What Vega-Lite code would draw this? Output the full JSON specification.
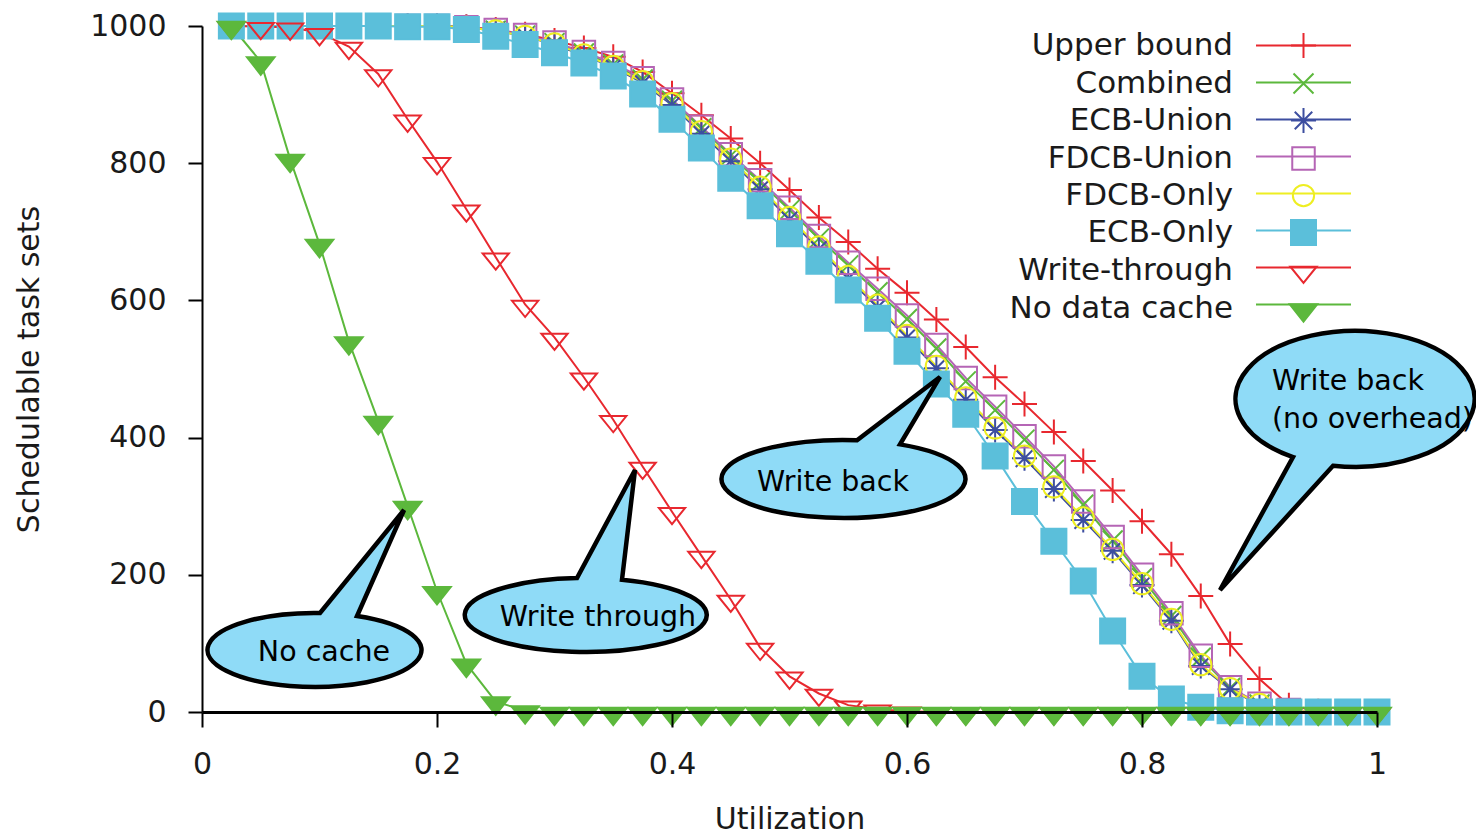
{
  "$schema": "https://vega.github.io/schema/vega-lite/v6.json",
  "width": 1175,
  "height": 686,
  "autosize": {"type": "none"},
  "padding": {"left": 202, "top": 26, "right": 99, "bottom": 122},
  "background": "white",
  "config": {
    "view": {"stroke": null},
    "legend": {
      "labelFont": "DejaVu Sans",
      "labelFontSize": 31,
      "labelColor": "#1a1a1a",
      "labelAlign": "right",
      "labelOffset": -86,
      "labelLimit": 500,
      "symbolSize": 625,
      "symbolStrokeWidth": 2,
      "rowPadding": 5,
      "padding": 0
    }
  },
  "datasets": {
    "curves": [
      {"u": 0.025, "Upper bound": 1000, "Combined": 1000, "ECB-Union": 1000, "FDCB-Union": 1000, "FDCB-Only": 1000, "ECB-Only": 1000, "Write-through": 1000, "No data cache": 1000},
      {"u": 0.05, "Upper bound": 1000, "Combined": 1000, "ECB-Union": 1000, "FDCB-Union": 1000, "FDCB-Only": 1000, "ECB-Only": 1000, "Write-through": 999, "No data cache": 948},
      {"u": 0.075, "Upper bound": 1000, "Combined": 1000, "ECB-Union": 1000, "FDCB-Union": 1000, "FDCB-Only": 1000, "ECB-Only": 1000, "Write-through": 998, "No data cache": 806},
      {"u": 0.1, "Upper bound": 1000, "Combined": 1000, "ECB-Union": 1000, "FDCB-Union": 1000, "FDCB-Only": 1000, "ECB-Only": 1000, "Write-through": 990, "No data cache": 682},
      {"u": 0.125, "Upper bound": 1000, "Combined": 1000, "ECB-Union": 1000, "FDCB-Union": 1000, "FDCB-Only": 1000, "ECB-Only": 1000, "Write-through": 970, "No data cache": 540},
      {"u": 0.15, "Upper bound": 1000, "Combined": 1000, "ECB-Union": 1000, "FDCB-Union": 1000, "FDCB-Only": 1000, "ECB-Only": 1000, "Write-through": 930, "No data cache": 424},
      {"u": 0.175, "Upper bound": 1000, "Combined": 1000, "ECB-Union": 1000, "FDCB-Union": 1000, "FDCB-Only": 1000, "ECB-Only": 999, "Write-through": 864, "No data cache": 300},
      {"u": 0.2, "Upper bound": 1000, "Combined": 1000, "ECB-Union": 1000, "FDCB-Union": 1000, "FDCB-Only": 1000, "ECB-Only": 999, "Write-through": 802, "No data cache": 176},
      {"u": 0.225, "Upper bound": 999, "Combined": 998, "ECB-Union": 998, "FDCB-Union": 998, "FDCB-Only": 998, "ECB-Only": 995, "Write-through": 733, "No data cache": 70},
      {"u": 0.25, "Upper bound": 995, "Combined": 993, "ECB-Union": 993, "FDCB-Union": 994, "FDCB-Only": 993, "ECB-Only": 985, "Write-through": 663, "No data cache": 15},
      {"u": 0.275, "Upper bound": 988, "Combined": 986, "ECB-Union": 985, "FDCB-Union": 987, "FDCB-Only": 985, "ECB-Only": 973, "Write-through": 594, "No data cache": 2},
      {"u": 0.3, "Upper bound": 979, "Combined": 975, "ECB-Union": 973, "FDCB-Union": 976, "FDCB-Only": 974, "ECB-Only": 961, "Write-through": 546, "No data cache": 0},
      {"u": 0.325, "Upper bound": 968, "Combined": 960, "ECB-Union": 957, "FDCB-Union": 962, "FDCB-Only": 958, "ECB-Only": 946, "Write-through": 488, "No data cache": 0},
      {"u": 0.35, "Upper bound": 955, "Combined": 944, "ECB-Union": 940, "FDCB-Union": 946, "FDCB-Only": 941, "ECB-Only": 927, "Write-through": 426, "No data cache": 0},
      {"u": 0.375, "Upper bound": 933, "Combined": 922, "ECB-Union": 917, "FDCB-Union": 924, "FDCB-Only": 919, "ECB-Only": 901, "Write-through": 358, "No data cache": 0},
      {"u": 0.4, "Upper bound": 902, "Combined": 891, "ECB-Union": 885, "FDCB-Union": 893, "FDCB-Only": 887, "ECB-Only": 864, "Write-through": 292, "No data cache": 0},
      {"u": 0.425, "Upper bound": 870, "Combined": 851, "ECB-Union": 843, "FDCB-Union": 853, "FDCB-Only": 846, "ECB-Only": 822, "Write-through": 228, "No data cache": 0},
      {"u": 0.45, "Upper bound": 836, "Combined": 811, "ECB-Union": 803, "FDCB-Union": 813, "FDCB-Only": 806, "ECB-Only": 778, "Write-through": 164, "No data cache": 0},
      {"u": 0.475, "Upper bound": 800, "Combined": 772, "ECB-Union": 762, "FDCB-Union": 775, "FDCB-Only": 765, "ECB-Only": 738, "Write-through": 94, "No data cache": 0},
      {"u": 0.5, "Upper bound": 761, "Combined": 732, "ECB-Union": 718, "FDCB-Union": 735, "FDCB-Only": 721, "ECB-Only": 697, "Write-through": 52, "No data cache": 0},
      {"u": 0.525, "Upper bound": 721, "Combined": 690, "ECB-Union": 675, "FDCB-Union": 694, "FDCB-Only": 678, "ECB-Only": 657, "Write-through": 27, "No data cache": 0},
      {"u": 0.55, "Upper bound": 685, "Combined": 651, "ECB-Union": 632, "FDCB-Union": 655, "FDCB-Only": 635, "ECB-Only": 615, "Write-through": 10, "No data cache": 0},
      {"u": 0.575, "Upper bound": 646, "Combined": 612, "ECB-Union": 590, "FDCB-Union": 617, "FDCB-Only": 593, "ECB-Only": 574, "Write-through": 4, "No data cache": 0},
      {"u": 0.6, "Upper bound": 611, "Combined": 573, "ECB-Union": 546, "FDCB-Union": 578, "FDCB-Only": 549, "ECB-Only": 526, "Write-through": 1, "No data cache": 0},
      {"u": 0.625, "Upper bound": 572, "Combined": 530, "ECB-Union": 501, "FDCB-Union": 535, "FDCB-Only": 504, "ECB-Only": 478, "Write-through": 0, "No data cache": 0},
      {"u": 0.65, "Upper bound": 532, "Combined": 482, "ECB-Union": 455, "FDCB-Union": 487, "FDCB-Only": 458, "ECB-Only": 434, "Write-through": 0, "No data cache": 0},
      {"u": 0.675, "Upper bound": 488, "Combined": 440, "ECB-Union": 411, "FDCB-Union": 445, "FDCB-Only": 414, "ECB-Only": 373, "Write-through": 0, "No data cache": 0},
      {"u": 0.7, "Upper bound": 449, "Combined": 397, "ECB-Union": 370, "FDCB-Union": 402, "FDCB-Only": 373, "ECB-Only": 307, "Write-through": 0, "No data cache": 0},
      {"u": 0.725, "Upper bound": 408, "Combined": 353, "ECB-Union": 325, "FDCB-Union": 358, "FDCB-Only": 328, "ECB-Only": 249, "Write-through": 0, "No data cache": 0},
      {"u": 0.75, "Upper bound": 366, "Combined": 302, "ECB-Union": 280, "FDCB-Union": 307, "FDCB-Only": 283, "ECB-Only": 191, "Write-through": 0, "No data cache": 0},
      {"u": 0.775, "Upper bound": 323, "Combined": 250, "ECB-Union": 235, "FDCB-Union": 255, "FDCB-Only": 237, "ECB-Only": 118, "Write-through": 0, "No data cache": 0},
      {"u": 0.8, "Upper bound": 278, "Combined": 195, "ECB-Union": 185, "FDCB-Union": 200, "FDCB-Only": 187, "ECB-Only": 52, "Write-through": 0, "No data cache": 0},
      {"u": 0.825, "Upper bound": 230, "Combined": 140, "ECB-Union": 133, "FDCB-Union": 144, "FDCB-Only": 135, "ECB-Only": 19, "Write-through": 0, "No data cache": 0},
      {"u": 0.85, "Upper bound": 169, "Combined": 79, "ECB-Union": 67, "FDCB-Union": 82, "FDCB-Only": 69, "ECB-Only": 7, "Write-through": 0, "No data cache": 0},
      {"u": 0.875, "Upper bound": 99, "Combined": 35, "ECB-Union": 33, "FDCB-Union": 36, "FDCB-Only": 34, "ECB-Only": 2, "Write-through": 0, "No data cache": 0},
      {"u": 0.9, "Upper bound": 48, "Combined": 11, "ECB-Union": 10, "FDCB-Union": 12, "FDCB-Only": 11, "ECB-Only": 0, "Write-through": 0, "No data cache": 0},
      {"u": 0.925, "Upper bound": 10, "Combined": 3, "ECB-Union": 2, "FDCB-Union": 3, "FDCB-Only": 2, "ECB-Only": 0, "Write-through": 0, "No data cache": 0},
      {"u": 0.95, "Upper bound": 1, "Combined": 0, "ECB-Union": 0, "FDCB-Union": 0, "FDCB-Only": 0, "ECB-Only": 0, "Write-through": 0, "No data cache": 0},
      {"u": 0.975, "Upper bound": 0, "Combined": 0, "ECB-Union": 0, "FDCB-Union": 0, "FDCB-Only": 0, "ECB-Only": 0, "Write-through": 0, "No data cache": 0},
      {"u": 1.0, "Upper bound": 0, "Combined": 0, "ECB-Union": 0, "FDCB-Union": 0, "FDCB-Only": 0, "ECB-Only": 0, "Write-through": 0, "No data cache": 0}
    ]
  },
  "data": {"name": "curves"},
  "encoding": {
    "x": {
      "field": "u",
      "type": "quantitative",
      "scale": {"domain": [0, 1], "nice": false, "zero": false},
      "axis": {
        "title": "Utilization",
        "values": [0, 0.2, 0.4, 0.6, 0.8, 1],
        "format": "~g",
        "grid": false,
        "tickSize": 15,
        "tickWidth": 2,
        "tickColor": "#000",
        "domainColor": "#000",
        "domainWidth": 3,
        "labelFont": "DejaVu Sans",
        "labelFontSize": 30,
        "labelColor": "#1a1a1a",
        "labelPadding": 22,
        "labelFlush": false,
        "labelOverlap": false,
        "titleFont": "DejaVu Sans",
        "titleFontSize": 30,
        "titleFontWeight": "normal",
        "titleColor": "#1a1a1a",
        "titlePadding": 25,
        "zindex": 1
      }
    },
    "y": {
      "field": "n",
      "type": "quantitative",
      "scale": {"domain": [0, 1000], "nice": false},
      "axis": {
        "title": "Schedulable task sets",
        "values": [0, 200, 400, 600, 800, 1000],
        "format": "d",
        "grid": false,
        "tickSize": 14,
        "tickWidth": 2,
        "tickColor": "#000",
        "domainColor": "#000",
        "domainWidth": 2,
        "labelFont": "DejaVu Sans",
        "labelFontSize": 30,
        "labelColor": "#1a1a1a",
        "labelPadding": 22,
        "labelOverlap": false,
        "titleFont": "DejaVu Sans",
        "titleFontSize": 30,
        "titleFontWeight": "normal",
        "titleColor": "#1a1a1a",
        "titlePadding": 45,
        "zindex": 1
      }
    }
  },
  "layer": [
    {
      "transform": [{"fold": ["Upper bound", "Combined", "ECB-Union", "FDCB-Union", "FDCB-Only", "ECB-Only", "Write-through", "No data cache"], "as": ["series", "n"]}],
      "mark": {"type": "line", "strokeWidth": 2},
      "encoding": {
        "color": {
          "field": "series",
          "type": "nominal",
          "scale": {
            "domain": ["Upper bound", "Combined", "ECB-Union", "FDCB-Union", "FDCB-Only", "ECB-Only", "Write-through", "No data cache", " "],
            "range": ["#e8282f", "#5cb83c", "#3d4ea0", "#b565b5", "#eeee22", "#5bbfda", "#e8282f", "#5cb83c", "transparent"]
          },
          "legend": {
            "title": null,
            "orient": "none",
            "legendX": 1086,
            "legendY": 4,
            "zindex": 1,
            "symbolType": "M-3.8,0L3.8,0",
            "labelExpr": "' '",
            "labelOpacity": 0
          }
        }
      }
    },
    {
      "transform": [{"fold": ["Upper bound", "Combined", "ECB-Union", "FDCB-Union", "FDCB-Only", "ECB-Only", "Write-through", "No data cache"], "as": ["series", "n"]}],
      "mark": {"type": "point", "strokeWidth": 2, "opacity": 1, "size": 625},
      "encoding": {
        "stroke": {
          "field": "series",
          "type": "nominal",
          "scale": {
            "domain": ["Upper bound", "Combined", "ECB-Union", "FDCB-Union", "FDCB-Only", "ECB-Only", "Write-through", "No data cache"],
            "range": ["#e8282f", "#5cb83c", "#3d4ea0", "#b565b5", "#eeee22", "#5bbfda", "#e8282f", "#5cb83c"]
          }
        },
        "fill": {
          "field": "series",
          "type": "nominal",
          "scale": {
            "domain": ["Upper bound", "Combined", "ECB-Union", "FDCB-Union", "FDCB-Only", "ECB-Only", "Write-through", "No data cache"],
            "range": ["transparent", "transparent", "transparent", "transparent", "transparent", "#5bbfda", "transparent", "#5cb83c"]
          },
          "legend": {
            "title": null,
            "orient": "none",
            "legendX": 1086,
            "legendY": 4,
            "zindex": 2
          }
        },
        "shape": {
          "field": "series",
          "type": "nominal",
          "scale": {
            "domain": ["Upper bound", "Combined", "ECB-Union", "FDCB-Union", "FDCB-Only", "ECB-Only", "Write-through", "No data cache"],
            "range": [
              "M-1,0L1,0M0,-1L0,1",
              "M-0.8,-0.8L0.8,0.8M-0.8,0.8L0.8,-0.8",
              "M-1,0L1,0M0,-1L0,1M-0.7,-0.7L0.7,0.7M-0.7,0.7L0.7,-0.7",
              "M-0.9,-0.9L0.9,-0.9L0.9,0.9L-0.9,0.9Z",
              "M-0.85,0A0.85,0.85 0 1,0 0.85,0A0.85,0.85 0 1,0 -0.85,0Z",
              "M-1,-1L1,-1L1,1L-1,1Z",
              "M-1.05,-0.3L1.05,-0.3L0,1Z",
              "M-1.1,-0.35L1.1,-0.35L0,1.05Z"
            ]
          }
        }
      }
    },
    {
      "data": {"values": [{"u": 0.0962, "n": 90.4}]},
      "mark": {"type": "point", "size": 40000, "filled": true, "opacity": 1, "fill": "#8fdbf7", "stroke": "#000", "strokeWidth": 4.5, "shape": "M0.42,-0.34A1.07,0.37 0 1,1 0.05,-0.37L0.89,-1.40Z"}
    },
    {
      "data": {"values": [{"u": 0.3268, "n": 141.4}]},
      "mark": {"type": "point", "size": 40000, "filled": true, "opacity": 1, "fill": "#8fdbf7", "stroke": "#000", "strokeWidth": 4.5, "shape": "M0.36,-0.353A1.21,0.37 0 1,1 -0.09,-0.369L0.49,-1.45Z"}
    },
    {
      "data": {"values": [{"u": 0.5464, "n": 339.7}]},
      "mark": {"type": "point", "size": 40000, "filled": true, "opacity": 1, "fill": "#8fdbf7", "stroke": "#000", "strokeWidth": 4.5, "shape": "M0.56,-0.346A1.22,0.39 0 1,1 0.13,-0.388L0.96,-1.02Z"}
    },
    {
      "data": {"values": [{"u": 0.9813, "n": 456.3}]},
      "mark": {"type": "point", "size": 40000, "filled": true, "opacity": 1, "fill": "#8fdbf7", "stroke": "#000", "strokeWidth": 4.5, "shape": "M-0.62,0.581A1.195,0.68 0 1,1 -0.22,0.668L-1.35,1.91Z"}
    },
    {
      "data": {"values": [
        {"u": 0.1038, "n": 87.5, "label": "No cache"},
        {"u": 0.337, "n": 138.5, "label": "Write through"},
        {"u": 0.537, "n": 335.3, "label": "Write back"}
      ]},
      "mark": {"type": "text", "font": "DejaVu Sans", "fontSize": 28.5, "color": "#000", "align": "center", "baseline": "middle"},
      "encoding": {"text": {"field": "label", "type": "nominal"}}
    },
    {
      "data": {"values": [{"u": 0.9106, "n": 482.5, "label": "Write back\n(no overhead)"}]},
      "mark": {"type": "text", "font": "DejaVu Sans", "fontSize": 28.5, "color": "#000", "align": "left", "baseline": "middle", "lineBreak": "\n", "lineHeight": 38},
      "encoding": {"text": {"field": "label", "type": "nominal"}}
    }
  ]
}
